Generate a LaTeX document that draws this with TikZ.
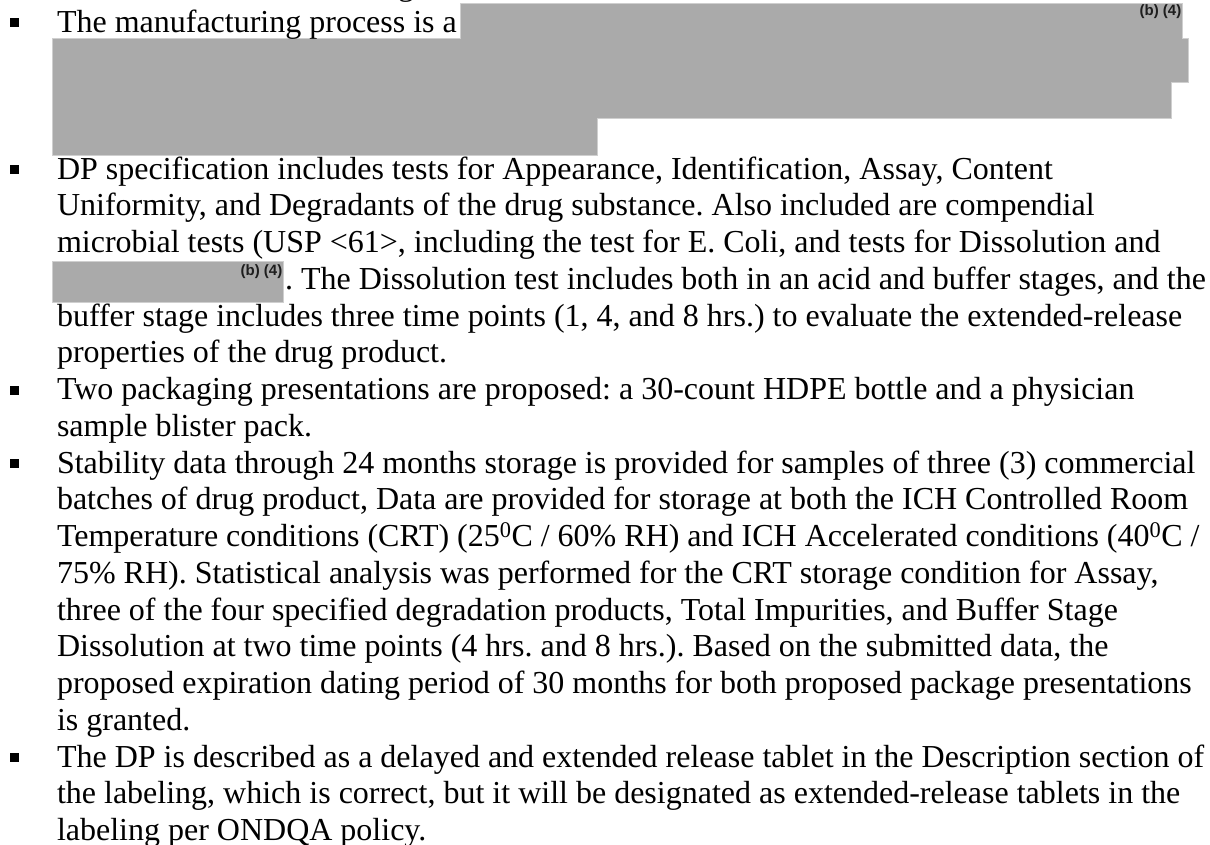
\documentclass[tikz,border=0pt]{standalone}
\usepackage{fontspec}
\setmainfont{Liberation Serif}
\newfontfamily\redfont{Liberation Sans}
\definecolor{redact}{HTML}{AAAAAA}
\definecolor{redactedge}{HTML}{CFCFCF}
\definecolor{labgray}{HTML}{1E1E1E}
\newcommand{\bodyfont}{\fontsize{32}{36.75}\selectfont\frenchspacing}
\frenchspacing
\begin{document}
\begin{tikzpicture}[x=1pt,y=-1pt,
  txt/.style={anchor=base west, inner sep=0pt, outer sep=0pt, font=\bodyfont, text=black},
  bulletbox/.style={rectangle, fill=black, inner sep=0pt, minimum width=9pt, minimum height=9pt},
  redbox/.style={fill=redact, draw=redactedge, line width=0.8pt},
  redlabel/.style={anchor=base east, inner sep=0pt, font=\redfont\bfseries\fontsize{15}{17}\selectfont, text=labgray}]
\useasboundingbox (0,0) rectangle (1210,844);
\begin{scope}
\clip (0,0) rectangle (1210,844);
% partial glyph of the line above
\node[txt] (gtail) at (398,-4.75) {g};
% redaction 1
\draw[redbox] (460,3) -- (1182,3) -- (1182,38) -- (1188,38) -- (1188,82) -- (1171,82) -- (1171,118) -- (597,118) -- (597,155) -- (52,155) -- (52,38) -- (460,38) -- cycle;
\node[redlabel] (r1) at (1181.5,15) {(b) (4)};
% redaction 2
\draw[redbox] (52,261) rectangle (283,302);
\node[redlabel] (r2) at (282.5,275) {(b) (4)};
% bullets
\node[bulletbox] (b1) at (14.5,22.5) {};
\node[bulletbox] (b2) at (14.5,169.5) {};
\node[bulletbox] (b3) at (14.5,390) {};
\node[bulletbox] (b4) at (14.5,463.5) {};
\node[bulletbox] (b5) at (14.5,757.5) {};
% text lines
\node[txt] (l0) at (57,32) {The manufacturing process is a};
\node[txt] (l4) at (57,179) {DP specification includes tests for Appearance, Identification, Assay, Content};
\node[txt] (l5) at (57,215.75) {Uniformity, and Degradants of the drug substance. Also included are compendial};
\node[txt] (l6) at (57,252.5) {microbial tests (USP <61>, including the test for E. Coli, and tests for Dissolution and};
\node[txt] (l7) at (285,289.25) {. The Dissolution test includes both in an acid and buffer stages, and the};
\node[txt] (l8) at (57,326) {buffer stage includes three time points (1, 4, and 8 hrs.) to evaluate the extended-release};
\node[txt] (l9) at (57,362.75) {properties of the drug product.};
\node[txt] (l10) at (57,399.5) {Two packaging presentations are proposed: a 30-count HDPE bottle and a physician};
\node[txt] (l11) at (57,436.25) {sample blister pack.};
\node[txt] (l12) at (57,473) {Stability data through 24 months storage is provided for samples of three (3) commercial};
\node[txt] (l13) at (57,509.75) {batches of drug product, Data are provided for storage at both the ICH Controlled Room};
\node[txt] (l14) at (57,546.5) {Temperature conditions (CRT) (25\textsuperscript{0}C / 60\% RH) and ICH Accelerated conditions (40\textsuperscript{0}C /};
\node[txt] (l15) at (57,583.25) {75\% RH). Statistical analysis was performed for the CRT storage condition for Assay,};
\node[txt] (l16) at (57,620) {three of the four specified degradation products, Total Impurities, and Buffer Stage};
\node[txt] (l17) at (57,656.75) {Dissolution at two time points (4 hrs. and 8 hrs.). Based on the submitted data, the};
\node[txt] (l18) at (57,693.5) {proposed expiration dating period of 30 months for both proposed package presentations};
\node[txt] (l19) at (57,730.25) {is granted.};
\node[txt] (l20) at (57,767) {The DP is described as a delayed and extended release tablet in the Description section of};
\node[txt] (l21) at (57,803.75) {the labeling, which is correct, but it will be designated as extended-release tablets in the};
\node[txt] (l22) at (57,840.5) {labeling per ONDQA policy.};
\end{scope}
\end{tikzpicture}
\end{document}
